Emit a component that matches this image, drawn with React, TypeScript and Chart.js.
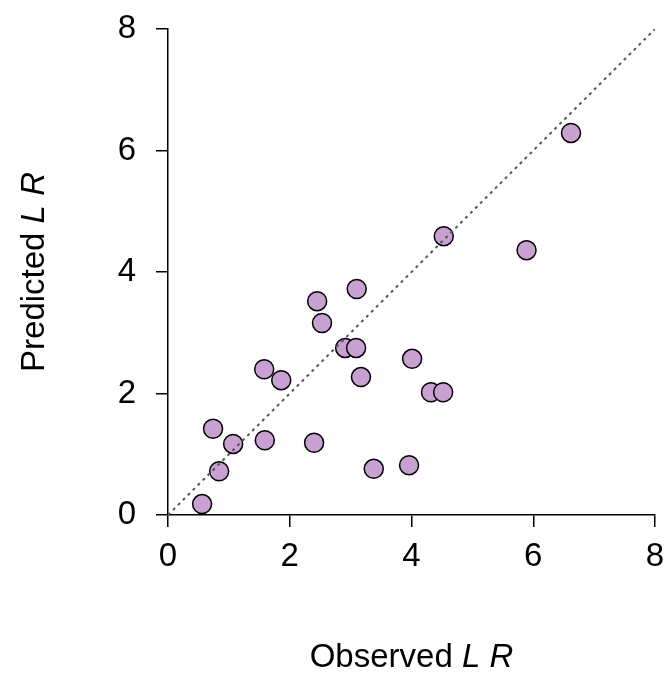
import { useEffect, useRef } from "react";
import { Chart, registerables } from "chart.js";

Chart.register(...registerables);

const observed = [6.62, 4.53, 5.89, 3.10, 2.45, 2.53, 2.91, 3.09, 3.17, 4.01, 4.32, 4.52, 1.58, 1.86, 0.74, 1.07, 0.84, 1.59, 2.40, 3.38, 3.96, 0.56];
const predicted = [6.29, 4.59, 4.36, 3.72, 3.52, 3.16, 2.75, 2.75, 2.27, 2.57, 2.02, 2.02, 2.40, 2.22, 1.42, 1.17, 0.72, 1.23, 1.19, 0.76, 0.82, 0.18];
const ticks = [0, 2, 4, 6, 8];
const FONT = "'Liberation Sans', Arial, sans-serif";

const titlePlugin = {
  id: "mixedTitles",
  afterDraw(chart: any) {
    const { ctx, chartArea } = chart;
    const draw = (plain: string, ital: string) => {
      ctx.font = `33px ${FONT}`;
      const w1 = ctx.measureText(plain).width;
      ctx.font = `italic 33px ${FONT}`;
      const w2 = ctx.measureText(ital).width;
      const x = -(w1 + w2) / 2;
      ctx.textAlign = "left";
      ctx.textBaseline = "middle";
      ctx.fillStyle = "#000";
      ctx.font = `33px ${FONT}`;
      ctx.fillText(plain, x, 0);
      ctx.font = `italic 33px ${FONT}`;
      ctx.fillText(ital, x + w1, 0);
    };
    ctx.save();
    ctx.translate((chartArea.left + chartArea.right) / 2, 658);
    draw("Observed ", "L R");
    ctx.restore();
    ctx.save();
    ctx.translate(35, (chartArea.top + chartArea.bottom) / 2);
    ctx.rotate(-Math.PI / 2);
    draw("Predicted ", "L R");
    ctx.restore();
  },
};

export default function App() {
  const ref = useRef<HTMLCanvasElement | null>(null);
  useEffect(() => {
    document.body.style.margin = "0";
    if (!ref.current) return;
    const axis = {
      type: "linear" as const,
      min: 0,
      max: 8,
      afterBuildTicks: (s: any) => { s.ticks = ticks.map((v) => ({ value: v })); },
      grid: { drawOnChartArea: false, drawTicks: true, tickLength: 12, color: "#000", lineWidth: 1.5 },
      border: { color: "#000", width: 1.5 },
    };
    const chart = new Chart(ref.current, {
      type: "scatter",
      data: {
        datasets: [
          {
            type: "line",
            data: [{ x: 0, y: 0 }, { x: 8, y: 8 }],
            borderColor: "#555",
            borderWidth: 2,
            borderDash: [3, 4],
            pointRadius: 0,
          },
          {
            data: observed.map((x, i) => ({ x, y: predicted[i] })),
            backgroundColor: "#c9a0d2",
            borderColor: "#000",
            borderWidth: 1.5,
            pointRadius: 9.5,
          },
        ],
      },
      options: {
        animation: false,
        responsive: false,
        layout: { padding: { top: 29, right: 12, left: 0, bottom: 0 } },
        plugins: { legend: { display: false }, tooltip: { enabled: false } },
        scales: {
          x: {
            ...axis,
            ticks: { color: "#000", font: { family: FONT, size: 33 }, padding: 10 },
            afterFit: (s: any) => { s.height = 160; s.paddingRight = 0; s.paddingLeft = 0; },
          },
          y: {
            ...axis,
            ticks: { color: "#000", font: { family: FONT, size: 33 }, padding: 20 },
            afterFit: (s: any) => { s.width = 168; s.paddingTop = 0; s.paddingBottom = 0; },
          },
        },
      },
      plugins: [titlePlugin],
    } as any);
    return () => chart.destroy();
  }, []);
  return <canvas ref={ref} width={667} height={675} style={{ display: "block" }} />;
}
